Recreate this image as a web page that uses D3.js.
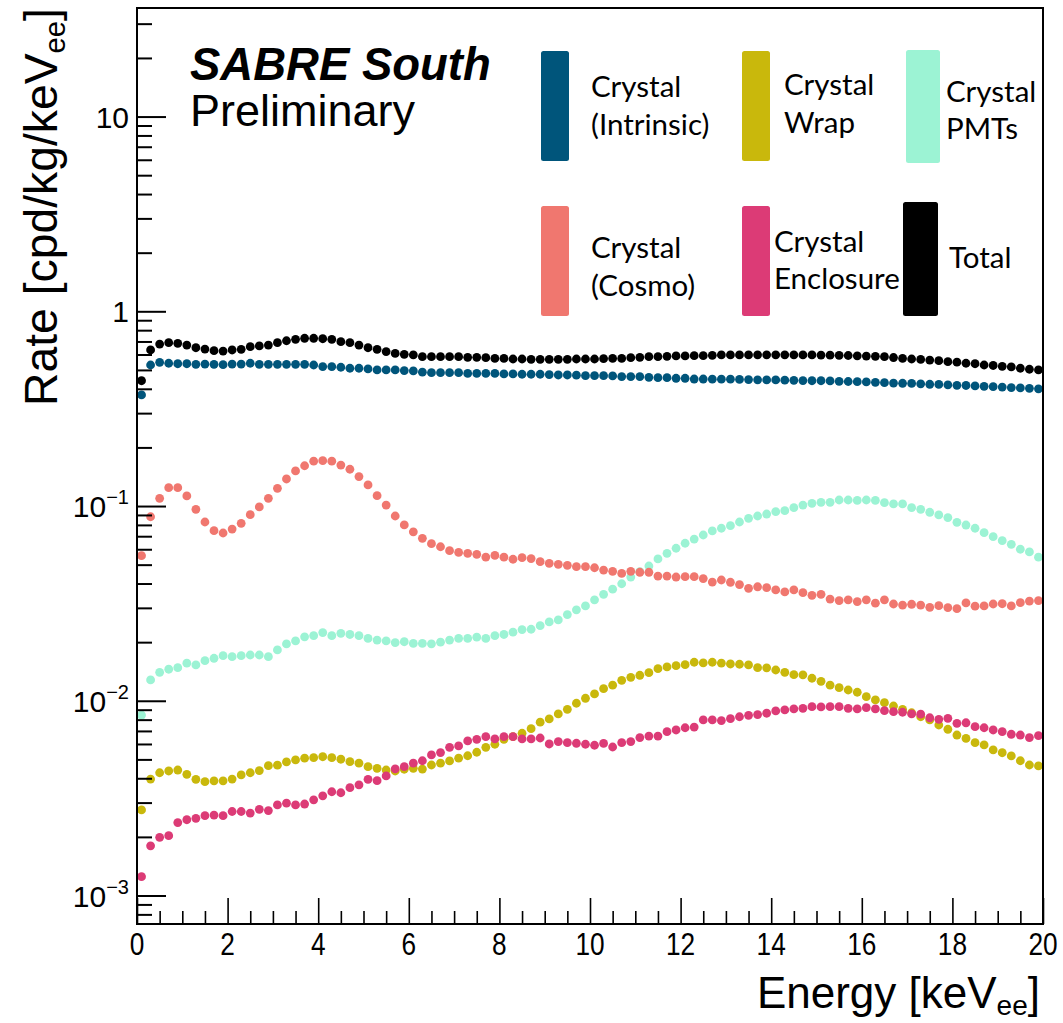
<!DOCTYPE html>
<html><head><meta charset="utf-8">
<script src="https://cdn.jsdelivr.net/npm/d3@7"></script>
<style>body{margin:0;background:#fff}svg{display:block}</style>
</head><body>
<svg id="c" width="1063" height="1023"></svg>
<script>
// ---- data ----
const energy = [0.1,0.3,0.5,0.7,0.9,1.1,1.3,1.5,1.7,1.9,2.1,2.3,2.5,2.7,2.9,3.1,3.3,3.5,3.7,3.9,4.1,4.3,4.5,4.7,4.9,5.1,5.3,5.5,5.7,5.9,6.1,6.3,6.5,6.7,6.9,7.1,7.3,7.5,7.7,7.9,8.1,8.3,8.5,8.7,8.9,9.1,9.3,9.5,9.7,9.9,10.1,10.3,10.5,10.7,10.9,11.1,11.3,11.5,11.7,11.9,12.1,12.3,12.5,12.7,12.9,13.1,13.3,13.5,13.7,13.9,14.1,14.3,14.5,14.7,14.9,15.1,15.3,15.5,15.7,15.9,16.1,16.3,16.5,16.7,16.9,17.1,17.3,17.5,17.7,17.9,18.1,18.3,18.5,18.7,18.9,19.1,19.3,19.5,19.7,19.9];

const crystalIntrinsic = [0.372,0.530,0.547,0.541,0.538,0.538,0.534,0.536,0.534,0.532,0.536,0.536,0.541,0.534,0.534,0.534,0.534,0.534,0.534,0.530,0.520,0.520,0.516,0.510,0.510,0.506,0.500,0.500,0.500,0.496,0.494,0.487,0.484,0.484,0.484,0.484,0.480,0.480,0.480,0.480,0.477,0.477,0.475,0.475,0.475,0.473,0.471,0.471,0.470,0.467,0.467,0.467,0.466,0.462,0.462,0.462,0.458,0.456,0.456,0.453,0.453,0.449,0.449,0.448,0.448,0.448,0.447,0.446,0.445,0.444,0.444,0.443,0.442,0.441,0.440,0.440,0.439,0.437,0.436,0.435,0.434,0.432,0.430,0.428,0.427,0.426,0.424,0.422,0.421,0.419,0.417,0.416,0.414,0.412,0.410,0.408,0.406,0.404,0.402,0.400];

const crystalCosmo = [0.0556,0.0881,0.1096,0.1242,0.1242,0.1127,0.0962,0.0828,0.0747,0.0727,0.0762,0.0815,0.0903,0.0989,0.1096,0.1233,0.1377,0.1514,0.161,0.170,0.171,0.170,0.1624,0.1545,0.1416,0.1283,0.113,0.1012,0.0889,0.080,0.0737,0.0683,0.0641,0.0618,0.0590,0.0578,0.0572,0.0565,0.0547,0.0558,0.0546,0.0533,0.0543,0.0537,0.0518,0.0508,0.0502,0.0496,0.0488,0.0488,0.0482,0.0469,0.0462,0.0451,0.0462,0.0457,0.0457,0.0437,0.0437,0.0432,0.0434,0.0434,0.0424,0.0407,0.0417,0.0406,0.0395,0.0378,0.0385,0.0381,0.0371,0.0362,0.0371,0.0359,0.0348,0.0352,0.0333,0.0327,0.0330,0.0323,0.0330,0.0317,0.0330,0.0314,0.0310,0.0313,0.0310,0.0302,0.0308,0.0301,0.0297,0.0318,0.0306,0.0307,0.0314,0.0315,0.0307,0.0319,0.0325,0.0327];

const crystalPMTs = [0.00845,0.0128,0.0140,0.01452,0.01479,0.01559,0.01528,0.01607,0.01653,0.01705,0.01684,0.01705,0.01718,0.01718,0.01684,0.01824,0.01958,0.0203,0.0213,0.0216,0.0224,0.0216,0.0222,0.0219,0.0216,0.0209,0.0205,0.0203,0.0199,0.0201,0.0197,0.0197,0.0196,0.0200,0.0205,0.0209,0.0209,0.0212,0.0209,0.0216,0.0219,0.0225,0.0232,0.0233,0.0243,0.0254,0.0260,0.0277,0.0293,0.0307,0.0330,0.0352,0.0374,0.0399,0.0432,0.0460,0.0492,0.0535,0.0572,0.0607,0.0644,0.0677,0.0710,0.0745,0.0769,0.0793,0.0828,0.0865,0.0889,0.0910,0.0935,0.0947,0.0981,0.1012,0.1033,0.1045,0.1045,0.1074,0.1074,0.1068,0.1074,0.1068,0.1041,0.1025,0.1025,0.0981,0.0962,0.0929,0.0900,0.0872,0.0825,0.0799,0.0769,0.0730,0.0696,0.0664,0.0636,0.0600,0.0581,0.0546];

const crystalWrap = [0.00275,0.00396,0.00427,0.00436,0.00441,0.00419,0.00395,0.00384,0.00388,0.00388,0.00396,0.00416,0.00427,0.00438,0.00464,0.00467,0.00485,0.00497,0.00507,0.00510,0.00516,0.00510,0.00501,0.00487,0.00478,0.00459,0.00450,0.00441,0.00436,0.00445,0.00450,0.00446,0.00468,0.00478,0.00491,0.00507,0.00522,0.00544,0.00577,0.00598,0.00634,0.00654,0.00681,0.00719,0.00776,0.00807,0.00856,0.00904,0.00971,0.01030,0.01084,0.01154,0.01202,0.01274,0.01320,0.01352,0.01394,0.01462,0.01493,0.01515,0.01532,0.01577,0.01565,0.01577,0.01559,0.01545,0.01540,0.01528,0.01479,0.01476,0.01439,0.01400,0.01362,0.01359,0.01305,0.01259,0.01202,0.01167,0.01136,0.01106,0.01050,0.01010,0.00978,0.00940,0.00904,0.00868,0.00828,0.00797,0.00751,0.00714,0.00667,0.00641,0.00609,0.00593,0.00559,0.00541,0.00521,0.00492,0.00468,0.00463];

const crystalEnclosure = [0.00125,0.00180,0.00199,0.00203,0.00237,0.00245,0.00249,0.00257,0.00259,0.00257,0.00270,0.00270,0.00265,0.00277,0.00273,0.00292,0.00298,0.00292,0.00295,0.00310,0.00325,0.00341,0.00337,0.00358,0.00370,0.00395,0.00389,0.00411,0.00447,0.00459,0.00478,0.00492,0.00527,0.00542,0.00577,0.00586,0.00622,0.00634,0.00654,0.00637,0.00654,0.00654,0.00637,0.00637,0.00644,0.00600,0.00617,0.00609,0.00605,0.00598,0.00591,0.00604,0.00579,0.00609,0.00617,0.00647,0.00659,0.00659,0.00694,0.00708,0.00727,0.00733,0.00797,0.00797,0.00791,0.00809,0.00828,0.00842,0.00849,0.00863,0.00887,0.00897,0.00908,0.00915,0.00933,0.00930,0.00933,0.00933,0.00915,0.00908,0.00922,0.00908,0.00890,0.00879,0.00873,0.00856,0.00853,0.00818,0.00803,0.00813,0.00766,0.00771,0.00736,0.00727,0.00708,0.00694,0.00673,0.00667,0.00647,0.00662];

const total = [0.440,0.633,0.679,0.690,0.685,0.671,0.650,0.640,0.628,0.625,0.633,0.638,0.658,0.664,0.671,0.690,0.706,0.718,0.727,0.727,0.723,0.718,0.698,0.690,0.671,0.650,0.638,0.621,0.608,0.601,0.597,0.585,0.585,0.585,0.585,0.585,0.580,0.580,0.578,0.573,0.573,0.569,0.569,0.567,0.567,0.567,0.567,0.567,0.569,0.569,0.569,0.571,0.573,0.573,0.578,0.580,0.585,0.585,0.587,0.590,0.590,0.592,0.592,0.594,0.597,0.597,0.597,0.597,0.598,0.598,0.598,0.598,0.598,0.597,0.597,0.596,0.595,0.594,0.593,0.591,0.589,0.587,0.585,0.579,0.573,0.569,0.566,0.562,0.558,0.551,0.548,0.541,0.538,0.530,0.527,0.522,0.518,0.510,0.504,0.500];

const xTickValues = [0,2,4,6,8,10,12,14,16,18,20];
const xTickLabels = ["0","2","4","6","8","10","12","14","16","18","20"];
const yTickValues = [0.001,0.01,0.1,1,10];
const yTickBase = ["10","10","10","1","10"];
const yTickExp = ["\u22123","\u22122","\u22121","",""];

const seriesNames = ["Crystal Wrap","Crystal PMTs","Crystal Enclosure","Crystal (Cosmo)","Crystal (Intrinsic)","Total"];
const seriesValues = [crystalWrap, crystalPMTs, crystalEnclosure, crystalCosmo, crystalIntrinsic, total];
const seriesColors = ["#c9b80c","#9cf3d4","#dc3b76","#f0776f","#00557b","#000000"];

// ---- layout ----
const svg = d3.select("#c");
const x = d3.scaleLinear().domain([0,20]).range([137,1043]);
const y = d3.scaleLog().domain([0.000714,36.1]).range([924,8]);

// points
seriesValues.forEach((vals,i)=>{
  svg.append("g").attr("class","series")
    .selectAll("circle").data(vals.map((v,j)=>({e:energy[j],v})))
    .join("circle")
    .attr("cx",d=>x(d.e)).attr("cy",d=>y(d.v)).attr("r",4.4)
    .attr("fill",seriesColors[i]);
});

// frame
svg.append("rect").attr("x",137).attr("y",8).attr("width",906).attr("height",916)
  .attr("fill","none").attr("stroke","#000").attr("stroke-width",2);

// y ticks (inward)
const yMinor=[];
for(let e=-4;e<=1;e++){for(let m=2;m<=9;m++){const v=m*Math.pow(10,e);if(v>0.000714&&v<36.1)yMinor.push(v);}}
svg.append("g").attr("transform","translate(137,0)")
  .call(d3.axisRight(y).tickValues(yMinor).tickSize(15).tickFormat(""))
  .call(g=>{g.select(".domain").remove();g.selectAll("line").attr("stroke-width",2);});
svg.append("g").attr("transform","translate(137,0)")
  .call(d3.axisRight(y).tickValues(yTickValues).tickSize(29).tickFormat(""))
  .call(g=>{g.select(".domain").remove();g.selectAll("line").attr("stroke-width",2);});

// x ticks (inward)
const xMinor=d3.range(0,20.001,0.5).filter(v=>v%2!==0);
svg.append("g").attr("transform","translate(0,924)")
  .call(d3.axisTop(x).tickValues(xMinor).tickSize(13).tickFormat(""))
  .call(g=>{g.select(".domain").remove();g.selectAll("line").attr("stroke-width",1.6);});
svg.append("g").attr("transform","translate(0,924)")
  .call(d3.axisTop(x).tickValues(xTickValues).tickSize(26).tickFormat(""))
  .call(g=>{g.select(".domain").remove();g.selectAll("line").attr("stroke-width",1.6);});

// x tick labels
const fontAx = "'Liberation Sans', Arial, Helvetica, sans-serif";
xTickValues.forEach((v,i)=>{
  svg.append("text").attr("transform",`translate(${x(v)},955) scale(0.82,1)`)
    .attr("text-anchor","middle").attr("font-family",fontAx).attr("font-size",32)
    .text(xTickLabels[i]);
});

// y tick labels
yTickValues.forEach((v,i)=>{
  const t = svg.append("text").attr("x",129).attr("y",y(v)+11)
    .attr("text-anchor","end").attr("font-family",fontAx).attr("font-size",30);
  t.append("tspan").text(yTickBase[i]);
  if(yTickExp[i]) t.append("tspan").attr("dy",-13).attr("font-size",20).text(yTickExp[i]);
});

// axis titles
const xt = svg.append("text").attr("x",1040).attr("y",1008).attr("text-anchor","end")
  .attr("font-family",fontAx).attr("font-size",44);
xt.append("tspan").text("Energy [keV");
xt.append("tspan").attr("dy",7).attr("font-size",28).text("ee");
xt.append("tspan").attr("dy",-7).text("]");

const ytG = svg.append("g").attr("transform","translate(57,406) rotate(-90)");
const yt = ytG.append("text").attr("font-family",fontAx).attr("font-size",46);
yt.append("tspan").text("Rate [cpd/kg/keV");
yt.append("tspan").attr("dy",8).attr("font-size",29).text("ee");
yt.append("tspan").attr("dy",-8).text("]");
const ytLen = yt.node().getBBox().width;
yt.attr("transform",`scale(${398/ytLen},1)`);

// SABRE South label
svg.append("text").attr("x",190).attr("y",80).attr("font-family",fontAx)
  .attr("font-size",45.5).attr("font-weight","bold").attr("font-style","italic").text("SABRE South");
svg.append("text").attr("x",190).attr("y",126).attr("font-family",fontAx)
  .attr("font-size",45).text("Preliminary");

// legend
const legendFont = "Lato, 'Open Sans', sans-serif";
const legendItems = [
  {c:"#00557b", r:[541,51,28,110], lines:["Crystal","(Intrinsic)"], tx:591, ty:[97,135]},
  {c:"#c9b80c", r:[742,51,28,110], lines:["Crystal","Wrap"], tx:784, ty:[95,133]},
  {c:"#9cf3d4", r:[906,50,34,113], lines:["Crystal","PMTs"], tx:946, ty:[102,139]},
  {c:"#f0776f", r:[541,206,28,110], lines:["Crystal","(Cosmo)"], tx:591, ty:[258,296]},
  {c:"#dc3b76", r:[742,206,28,110], lines:["Crystal","Enclosure"], tx:774, ty:[252,289]},
  {c:"#000000", r:[903,202,35,114], lines:["Total"], tx:949, ty:[268]}
];
legendItems.forEach(it=>{
  svg.append("rect").attr("x",it.r[0]).attr("y",it.r[1]).attr("width",it.r[2]).attr("height",it.r[3])
    .attr("rx",2.5).attr("fill",it.c);
  it.lines.forEach((l,k)=>{
    svg.append("text").attr("x",it.tx).attr("y",it.ty[k]).attr("font-family",legendFont)
      .attr("font-size",29.5).text(l);
  });
});
</script>
</body></html>
